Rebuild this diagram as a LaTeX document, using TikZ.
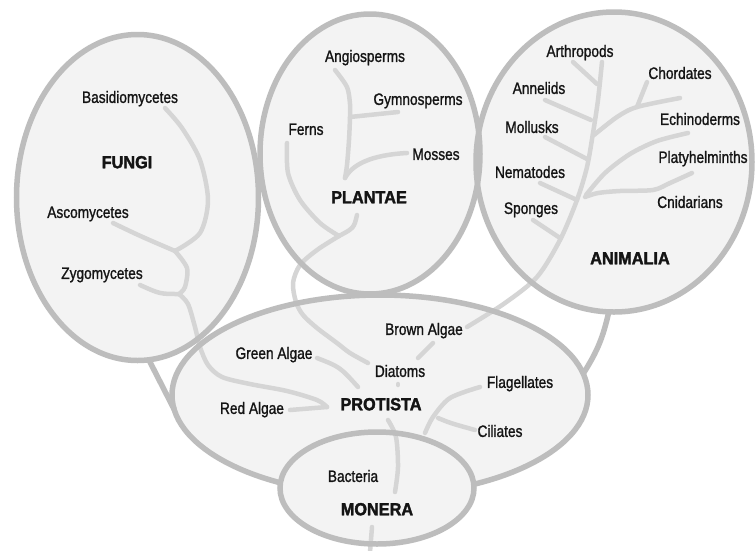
\documentclass[tikz,border=0pt]{standalone}
\usepackage{fontspec}
\setmainfont[FakeStretch=0.83, FakeBold=1.2]{Liberation Sans}
\newfontfamily\kingdomfont[FakeStretch=0.93, FakeBold=2]{Liberation Sans}
\usepackage{tikz}
\usetikzlibrary{shapes.geometric}
\definecolor{rim}{HTML}{BDBDBD}
\definecolor{lobe}{HTML}{F3F3F3}
\definecolor{twig}{HTML}{D5D5D5}
\definecolor{ink}{HTML}{141414}
\tikzset{my_kingdom/.style={ellipse, inner sep=0pt, outer sep=0pt, fill=lobe}}
\tikzset{my_rim/.style={ellipse, inner sep=0pt, outer sep=0pt, draw=rim, line width=5.5pt}}
\tikzset{my_link/.style={draw=rim, line width=5.5pt}}
\tikzset{my_branch/.style={draw=twig, line width=4.5pt, line cap=round, line join=round}}
\tikzset{my_taxon/.style={text=ink, inner sep=0pt, text height=11.8pt, text depth=0pt, font=\fontsize{16.5}{19}\selectfont}}
\tikzset{my_title/.style={text=ink, inner sep=0pt, text height=12.5pt, text depth=0pt, font=\kingdomfont\bfseries\fontsize{17.5}{21}\selectfont}}
\tikzset{fungi_size/.style={minimum width=242pt, minimum height=326pt}}
\tikzset{plantae_size/.style={minimum width=220pt, minimum height=280pt}}
\tikzset{animalia_size/.style={minimum width=276pt, minimum height=300pt}}
\tikzset{protista_size/.style={minimum width=416pt, minimum height=200pt}}
\tikzset{monera_size/.style={minimum width=194pt, minimum height=112pt}}

\begin{document}
\begin{tikzpicture}[x=1pt, y=-1pt]
    \useasboundingbox (0,0) rectangle (756,550);
    \fill[white] (0,0) rectangle (756,550);

    % kingdom areas
    \node[my_kingdom, fungi_size] (fungi) at (137.5,197.5) {};
    \node[my_kingdom, plantae_size] (plantae) at (370,154) {};
    \node[my_kingdom, animalia_size] (animalia) at (614,162) {};
    \node[my_kingdom, protista_size] (protista) at (380,395) {};

    \draw[my_link] (fungi.-86) -- (protista.184);
    \draw[my_link] (animalia.-92) to[bend left=10] (protista.6);

    % fungi
    \coordinate (f_basi) at (165,108);
    \coordinate (f_asco) at (113,223);
    \coordinate (f_zygo) at (140,285);
    \coordinate (f_j1) at (175,251);
    \coordinate (f_j2) at (179,294);
    \coordinate (r_join) at (327,407);
    \coordinate (r_red) at (290,410);
    \draw[my_branch] plot[smooth] coordinates {(f_basi) (182,128) (200,160) (208,200) (200,233) (f_j1)};
    \draw[my_branch] (f_asco) .. controls (140,236) .. (f_j1);
    \draw[my_branch] plot[smooth] coordinates {(f_j1) (187,268) (185,287) (f_j2)};
    \draw[my_branch] (f_zygo) .. controls (160,294) .. (f_j2);
    \draw[my_branch] plot[smooth] coordinates {(f_j2) (188,304) (195,327) (200,347) (208,365) (222,377) (250,384) (287,391) (317,400) (r_join)};
    \draw[my_branch] (r_red) -- (r_join);

    % plantae
    \coordinate (p_angio) at (335,70);
    \coordinate (p_gymno) at (398,112);
    \coordinate (p_moss) at (407,153);
    \coordinate (p_ferns) at (287,143);
    \coordinate (p_j1) at (350,117);
    \coordinate (p_j2) at (345,178);
    \coordinate (p_stem) at (357,215);
    \coordinate (p_j3) at (339,236);
    \coordinate (p_end) at (368,363);
    \draw[my_branch] plot[smooth] coordinates {(p_angio) (347,87) (350,104) (p_j1) (349,140) (347,165) (p_j2)};
    \draw[my_branch] (p_gymno) -- (p_j1);
    \draw[my_branch] (p_moss) .. controls (370,155) and (352,165) .. (p_j2);
    \draw[my_branch] (p_stem) .. controls (354,228) .. (p_j3);
    \draw[my_branch] plot[smooth] coordinates {(p_ferns) (288,173) (300,200) (320,223) (p_j3)};
    \draw[my_branch] plot[smooth] coordinates {(p_j3) (317,250) (300,265) (293,283) (296,302) (303,315) (317,328) (337,343) (350,353) (p_end)};

    % animalia
    \coordinate (a_root) at (467,327);
    \coordinate (a_top) at (602,62);
    \draw[my_branch] plot[smooth] coordinates {(a_root) (505,303) (537,277) (560,240) (577,200) (587,167) (593,133) (598,100) (a_top)};
    \draw[my_branch] (573,62) -- (597,84);
    \draw[my_branch] (545,100) -- (591,120);
    \draw[my_branch] (647,82) -- (637,107);
    \draw[my_branch] plot[smooth] coordinates {(680,98) (637,107) (617,117) (594,135)};
    \draw[my_branch] (545,137) -- (587,159);
    \draw[my_branch] plot[smooth] coordinates {(688,133) (657,141) (630,154) (605,173) (586,195)};
    \draw[my_branch] plot[smooth] coordinates {(692,173) (670,183) (653,190) (620,191) (598,193) (585,197)};
    \draw[my_branch] (540,183) -- (577,200);
    \draw[my_branch] (533,220) -- (560,238);

    % protista
    \draw[my_branch] (317,358) .. controls (340,367) .. (358,387);
    \draw[my_branch] (418,358) -- (433,343);
    \draw[my_branch] (398,384) -- (398,385);
    \draw[my_branch] plot[smooth] coordinates {(480,387) (450,398) (433,417) (425,433)};
    \draw[my_branch] (475,430) .. controls (450,423) .. (438,418);

    \node[my_rim, fungi_size] (fungi_rim) at (fungi) {};
    \node[my_rim, plantae_size] (plantae_rim) at (plantae) {};
    \node[my_rim, animalia_size] (animalia_rim) at (animalia) {};
    \node[my_rim, protista_size] (protista_rim) at (protista) {};

    % monera
    \node[my_kingdom, monera_size] (monera) at (377,488) {};
    \draw[my_branch] plot[smooth] coordinates {(388,420) (396,437) (398,467) (395,492)};
    \draw[my_branch] (372,527) -- (370,552);
    \node[my_rim, monera_size] (monera_rim) at (monera) {};

    % labels
    \node[my_taxon] (basidio) at (130,97) {Basidiomycetes};
    \node[my_title] (fungi_t) at (127,162) {FUNGI};
    \node[my_taxon] (asco) at (88,212) {Ascomycetes};
    \node[my_taxon] (zygo) at (102,273) {Zygomycetes};
    \node[my_taxon] (angio) at (365,56) {Angiosperms};
    \node[my_taxon] (gymno) at (418,99) {Gymnosperms};
    \node[my_taxon] (ferns) at (306,129) {Ferns};
    \node[my_taxon] (mosses) at (436,154) {Mosses};
    \node[my_title] (plantae_t) at (369,197) {PLANTAE};
    \node[my_taxon] (arthro) at (580,51) {Arthropods};
    \node[my_taxon] (annel) at (539,88) {Annelids};
    \node[my_taxon] (chord) at (680,73) {Chordates};
    \node[my_taxon] (mollu) at (532,127) {Mollusks};
    \node[my_taxon] (echino) at (700,119) {Echinoderms};
    \node[my_taxon] (nemat) at (530,172) {Nematodes};
    \node[my_taxon] (platy) at (703,157) {Platyhelminths};
    \node[my_taxon] (spong) at (531,208) {Sponges};
    \node[my_taxon] (cnid) at (690,202) {Cnidarians};
    \node[my_title] (animalia_t) at (630,258) {ANIMALIA};
    \node[my_taxon] (brown) at (424,329) {Brown Algae};
    \node[my_taxon] (green) at (274,353) {Green Algae};
    \node[my_taxon] (diatom) at (400,371) {Diatoms};
    \node[my_taxon] (flag) at (520,382) {Flagellates};
    \node[my_taxon] (red) at (252,408) {Red Algae};
    \node[my_title] (protista_t) at (381,404) {PROTISTA};
    \node[my_taxon] (cilia) at (500,431) {Ciliates};
    \node[my_taxon] (bact) at (353,476) {Bacteria};
    \node[my_title] (monera_t) at (377,509) {MONERA};
\end{tikzpicture}
\end{document}
